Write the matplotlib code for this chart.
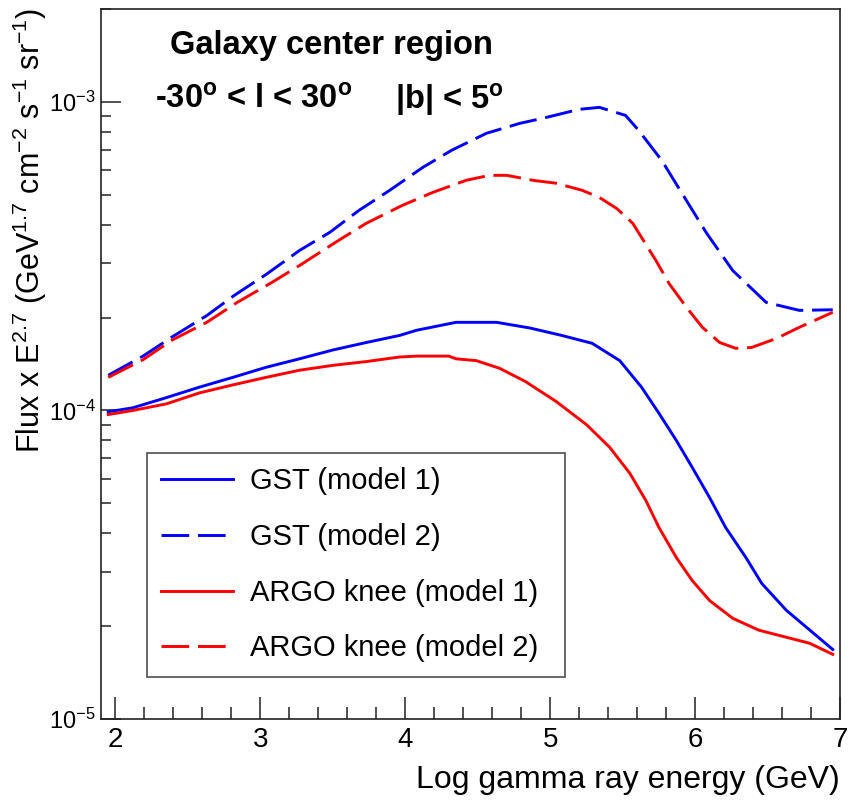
import matplotlib
matplotlib.use('Agg')
import matplotlib.pyplot as plt
from matplotlib.ticker import LogLocator, NullFormatter, MultipleLocator

plt.rcParams['font.family'] = ['Liberation Sans', 'DejaVu Sans']
plt.rcParams['mathtext.default'] = 'regular'

# log10(E / GeV) and flux x E^2.7 for the four emission models
gst_m1_x = [1.95, 2.12, 2.35, 2.58, 2.81, 3.04, 3.27, 3.50, 3.73, 3.96, 4.08, 4.35,
            4.63, 4.86, 5.08, 5.29, 5.48, 5.63, 5.75, 5.87, 5.98, 6.10, 6.21, 6.35,
            6.46, 6.63, 6.77, 6.95]
gst_m1_y = [0.99, 1.02, 1.10, 1.19, 1.28, 1.38, 1.47, 1.57, 1.66, 1.75, 1.82, 1.93,
            1.93, 1.85, 1.75, 1.65, 1.45, 1.19, 0.98, 0.80, 0.654, 0.522, 0.418, 0.334,
            0.275, 0.225, 0.198, 0.168]

argo_m1_x = [1.95, 2.12, 2.35, 2.58, 2.81, 3.04, 3.27, 3.50, 3.73, 3.96, 4.08, 4.30,
             4.35, 4.49, 4.65, 4.83, 5.04, 5.25, 5.41, 5.55, 5.66, 5.75, 5.87, 5.98,
             6.10, 6.26, 6.44, 6.63, 6.79, 6.95]
argo_m1_y = [0.97, 1.00, 1.05, 1.14, 1.21, 1.28, 1.35, 1.40, 1.44, 1.49, 1.50, 1.50,
             1.47, 1.45, 1.37, 1.24, 1.07, 0.90, 0.76, 0.625, 0.511, 0.418, 0.334, 0.281,
             0.242, 0.212, 0.194, 0.184, 0.176, 0.162]

gst_m2_x = [1.95, 2.19, 2.39, 2.63, 2.82, 3.04, 3.27, 3.48, 3.68, 3.89, 4.12, 4.32,
            4.56, 4.79, 4.95, 5.20, 5.34, 5.52, 5.61, 5.77, 5.91, 6.08, 6.26, 6.49,
            6.72, 6.95]
gst_m2_y = [1.30, 1.50, 1.73, 2.03, 2.36, 2.76, 3.30, 3.78, 4.45, 5.16, 6.13, 6.97,
            7.91, 8.52, 8.85, 9.46, 9.60, 9.04, 8.09, 6.46, 5.05, 3.75, 2.84, 2.24,
            2.11, 2.12]

argo_m2_x = [1.95, 2.19, 2.39, 2.63, 2.84, 3.08, 3.29, 3.52, 3.73, 3.98, 4.19, 4.42,
             4.58, 4.70, 4.88, 5.04, 5.22, 5.34, 5.46, 5.57, 5.63, 5.73, 5.82, 5.94,
             6.05, 6.17, 6.28, 6.39, 6.56, 6.72, 6.95]
argo_m2_y = [1.28, 1.46, 1.69, 1.93, 2.24, 2.60, 2.99, 3.51, 4.04, 4.62, 5.09, 5.57,
             5.78, 5.78, 5.57, 5.45, 5.17, 4.90, 4.51, 4.04, 3.64, 3.06, 2.58, 2.16,
             1.86, 1.66, 1.59, 1.60, 1.71, 1.86, 2.08]

scale = 1e-4  # y lists are in units of 1e-4

series = [
    ('GST (model 1)', gst_m1_x, gst_m1_y, 'blue', False),
    ('GST (model 2)', gst_m2_x, gst_m2_y, 'blue', True),
    ('ARGO knee (model 1)', argo_m1_x, argo_m1_y, 'red', False),
    ('ARGO knee (model 2)', argo_m2_x, argo_m2_y, 'red', True),
]

fig = plt.figure(figsize=(8.48, 8.05), dpi=100)
ax = fig.add_axes([101 / 848, 1 - 719 / 805, 739 / 848, 710 / 805])

for label, xs, ys, color, dashed in series:
    line, = ax.plot(xs, [v * scale for v in ys], color=color, lw=2.1, label=label)
    if dashed:
        line.set_dashes((9.5, 3.0))

ax.set_yscale('log')
ax.set_xlim(1.9, 7.0)
ax.set_ylim(1e-5, 2e-3)

ax.xaxis.set_major_locator(MultipleLocator(1))
ax.xaxis.set_minor_locator(MultipleLocator(0.2))
ax.yaxis.set_major_locator(LogLocator(base=10))
ax.yaxis.set_minor_locator(LogLocator(base=10, subs=range(2, 10)))
ax.yaxis.set_minor_formatter(NullFormatter())

ax.tick_params(axis='both', which='both', direction='in', top=False, right=False,
               width=1.1, color='#222222')
ax.tick_params(axis='x', which='major', length=16, labelsize=20, pad=6)
ax.tick_params(axis='x', which='minor', length=8.5)
ax.tick_params(axis='y', which='major', length=14.5, labelsize=17, pad=4)
ax.tick_params(axis='y', which='minor', length=7.2)
for spine in ax.spines.values():
    spine.set_linewidth(1.2)
    spine.set_color('#222222')

ax.set_xlabel('Log gamma ray energy (GeV)', fontsize=23)
ax.xaxis.set_label_coords(1.0, (719 - 780) / 710)
ax.xaxis.label.set_ha('right')
ax.xaxis.label.set_va('center')

# y title anchored to the top of the frame
fig.text(30 / 848, 1 - 8 / 805,
         r'Flux x E$^{2.7}$ (GeV$^{1.7}$ cm$^{-2}$ s$^{-1}$ sr$^{-1}$)',
         rotation=90, fontsize=22, ha='center', va='top')

# region description
ax.text(0.0934, 0.949, 'Galaxy center region', transform=ax.transAxes,
        fontsize=23.5, fontweight='bold', ha='left', va='center')
ax.text(0.0731, 0.872, r'-30$^{o}$ < l < 30$^{o}$', transform=ax.transAxes,
        fontsize=23.5, fontweight='bold', ha='left', va='center')
ax.text(0.398, 0.872, r'|b| < 5$^{o}$', transform=ax.transAxes,
        fontsize=23.5, fontweight='bold', ha='left', va='center')

leg = ax.legend(loc='upper left', bbox_to_anchor=(0.0622, 0.062, 0.5657, 0.3126),
                mode='expand', fontsize=21, frameon=True, fancybox=False,
                edgecolor='#222222', borderaxespad=0, borderpad=0.49,
                labelspacing=0.95, handlelength=2.47, handletextpad=0.58)
leg.get_frame().set_linewidth(1.2)

plt.savefig('out.png', dpi=100)
plt.close()
